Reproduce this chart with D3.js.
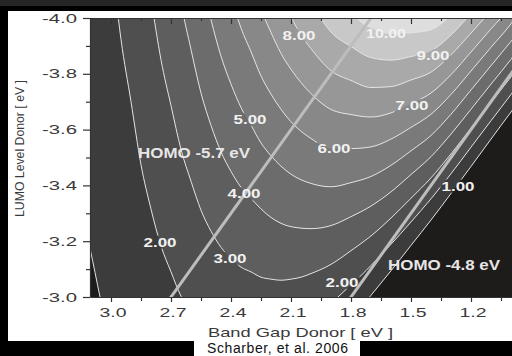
<!DOCTYPE html>
<html><head><meta charset="utf-8">
<script src="https://cdn.jsdelivr.net/npm/d3@7"></script>
<style>body{margin:0;background:#000;} svg{display:block;}</style>
</head><body>
<svg id="c" width="512" height="356"></svg>
<script>
// ---------- data ----------
const xTicks = [3.0, 2.7, 2.4, 2.1, 1.8, 1.5, 1.2];
const xTickLabels = ["3.0", "2.7", "2.4", "2.1", "1.8", "1.5", "1.2"];
const xMinorTicks = [2.85, 2.55, 2.25, 1.95, 1.65, 1.35, 1.05];
const yTicks = [-4.0, -3.8, -3.6, -3.4, -3.2, -3.0];
const yTickLabels = ["-4.0", "-3.8", "-3.6", "-3.4", "-3.2", "-3.0"];
const yMinorTicks = [-3.9, -3.7, -3.5, -3.3, -3.1];

const levels = [1, 2, 3, 4, 5, 6, 7, 8, 9, 10];
// contour lines: [band gap (eV), LUMO (eV)] ; region above each line has efficiency >= level
const contour1 = [[3.13,-3.27],[3.105,-3.176],[3.08,-3.088],[3.055,-3.0],[3.04,-2.95],[1.78,-2.95],[1.75,-2.964],[1.70,-3.006],[1.65,-3.050],[1.60,-3.094],[1.50,-3.185],[1.40,-3.276],[1.30,-3.371],[1.20,-3.468],[1.10,-3.566],[1.00,-3.663],[0.95,-3.71]];
const contour2 = [[3.00,-4.232],[2.95,-3.923],[2.90,-3.700],[2.85,-3.474],[2.80,-3.315],[2.75,-3.183],[2.70,-3.090],[2.65,-3.003],[2.60,-2.95],[1.96,-2.95],[1.90,-2.978],[1.85,-3.010],[1.80,-3.044],[1.75,-3.077],[1.70,-3.113],[1.60,-3.189],[1.50,-3.269],[1.40,-3.352],[1.30,-3.442],[1.20,-3.537],[1.10,-3.632],[1.00,-3.726],[0.95,-3.775]];
const contour3 = [[2.85,-4.336],[2.80,-4.073],[2.75,-3.850],[2.70,-3.686],[2.65,-3.529],[2.60,-3.415],[2.55,-3.311],[2.50,-3.236],[2.45,-3.178],[2.40,-3.138],[2.35,-3.107],[2.30,-3.090],[2.25,-3.071],[2.20,-3.064],[2.15,-3.060],[2.10,-3.064],[2.05,-3.071],[2.00,-3.084],[1.90,-3.117],[1.80,-3.166],[1.70,-3.219],[1.60,-3.283],[1.50,-3.354],[1.40,-3.427],[1.30,-3.513],[1.20,-3.605],[1.10,-3.697],[1.00,-3.789],[0.95,-3.835]];
const contour4 = [[2.70,-4.281],[2.65,-4.055],[2.60,-3.887],[2.55,-3.731],[2.50,-3.615],[2.45,-3.520],[2.40,-3.450],[2.35,-3.393],[2.30,-3.353],[2.20,-3.285],[2.10,-3.252],[2.00,-3.245],[1.90,-3.256],[1.80,-3.288],[1.70,-3.326],[1.60,-3.377],[1.50,-3.439],[1.40,-3.503],[1.30,-3.584],[1.20,-3.673],[1.10,-3.763],[1.00,-3.852],[0.95,-3.90]];
const contour5 = [[2.60,-4.359],[2.55,-4.151],[2.50,-3.994],[2.45,-3.863],[2.40,-3.763],[2.35,-3.679],[2.30,-3.616],[2.25,-3.552],[2.20,-3.506],[2.10,-3.440],[2.00,-3.407],[1.90,-3.395],[1.80,-3.410],[1.70,-3.432],[1.60,-3.472],[1.50,-3.524],[1.40,-3.579],[1.30,-3.655],[1.20,-3.742],[1.10,-3.829],[1.00,-3.916],[0.95,-3.96]];
const contour6 = [[2.50,-4.373],[2.45,-4.205],[2.40,-4.075],[2.35,-3.964],[2.30,-3.879],[2.25,-3.792],[2.20,-3.727],[2.10,-3.628],[2.00,-3.568],[1.90,-3.533],[1.80,-3.532],[1.70,-3.538],[1.60,-3.566],[1.50,-3.608],[1.40,-3.655],[1.30,-3.726],[1.20,-3.810],[1.10,-3.895],[1.00,-3.979],[0.95,-4.03]];
const contour7 = [[2.35,-4.250],[2.30,-4.142],[2.25,-4.033],[2.20,-3.948],[2.15,-3.873],[2.10,-3.816],[2.00,-3.729],[1.90,-3.672],[1.80,-3.654],[1.70,-3.645],[1.60,-3.660],[1.50,-3.693],[1.40,-3.731],[1.30,-3.797],[1.20,-3.878],[1.10,-3.961],[1.00,-4.042],[0.95,-4.09]];
const contour8 = [[2.20,-4.170],[2.15,-4.076],[2.10,-4.004],[2.05,-3.939],[2.00,-3.890],[1.90,-3.811],[1.80,-3.776],[1.70,-3.751],[1.60,-3.754],[1.50,-3.778],[1.40,-3.806],[1.30,-3.868],[1.20,-3.946],[1.10,-4.026],[1.05,-4.065]];
const contour9 = [[2.05,-4.112],[2.00,-4.052],[1.95,-3.997],[1.90,-3.950],[1.80,-3.898],[1.70,-3.858],[1.60,-3.849],[1.50,-3.862],[1.40,-3.882],[1.30,-3.939],[1.25,-3.976],[1.20,-4.015],[1.10,-4.092]];
const contour10 = [[1.85,-4.052],[1.80,-4.020],[1.75,-3.986],[1.70,-3.964],[1.60,-3.943],[1.50,-3.947],[1.40,-3.958],[1.35,-3.979],[1.30,-4.010],[1.25,-4.04]];
const contours = [contour1, contour2, contour3, contour4, contour5, contour6, contour7, contour8, contour9, contour10];

const contourLabels = ["1.00", "2.00", "2.00", "3.00", "4.00", "5.00", "6.00", "7.00", "8.00", "9.00", "10.00"];
const contourLabelBandGap = [1.265, 2.755, 1.845, 2.405, 2.335, 2.305, 1.885, 1.495, 2.060, 1.390, 1.625];
const contourLabelLumo = [-3.399, -3.198, -3.054, -3.140, -3.371, -3.637, -3.532, -3.687, -3.939, -3.867, -3.946];

const homoLevels = [-5.7, -4.8];
const homoLabels = ["HOMO -5.7 eV", "HOMO -4.8 eV"];
const homoLabelBandGap = [2.585, 1.335];
const homoLabelLumo = [-3.518, -3.115];

// ---------- drawing ----------
const W = 512, H = 356;
const FONT = "'Liberation Sans', Arial, sans-serif";
const svg = d3.select("#c");
svg.append("rect").attr("width", W).attr("height", H).attr("fill", "#000");
svg.append("rect").attr("x", 0).attr("y", 0).attr("width", W).attr("height", 6).attr("fill", "#262626");
svg.append("rect").attr("x", 8).attr("y", 11).attr("width", W - 8).attr("height", 330).attr("fill", "#fff");
svg.append("rect").attr("x", 194).attr("y", 340).attr("width", 166).attr("height", 16).attr("fill", "#fff");

const x = d3.scaleLinear().domain([3.105, 0.99]).range([90, 513]);
const y = d3.scaleLinear().domain([-4.0, -3.0]).range([18, 297]);

const shades = ["#1e1b1b", "#3c3c3c", "#4f4f4f", "#5e5e5e", "#6c6c6c", "#7a7a7a",
                "#888888", "#979797", "#a9a9a9", "#c8c8c8", "#dedede"];

const defs = svg.append("defs");
defs.append("clipPath").attr("id", "clip").append("rect")
  .attr("x", x(3.105)).attr("y", y(-4.0)).attr("width", W - x(3.105)).attr("height", y(-3.0) - y(-4.0));
const mask = defs.append("mask").attr("id", "lm").attr("maskUnits", "userSpaceOnUse")
  .attr("x", 0).attr("y", 0).attr("width", W).attr("height", H);
mask.append("rect").attr("width", W).attr("height", H).attr("fill", "#fff");

const plot = svg.append("g").attr("clip-path", "url(#clip)");
plot.append("rect").attr("x", x(3.105)).attr("y", y(-4.0))
  .attr("width", W - x(3.105)).attr("height", y(-3.0) - y(-4.0)).attr("fill", shades[0]);

const area = d3.area().x(d => x(d[0])).y0(y(-4.3)).y1(d => y(d[1])).curve(d3.curveMonotoneX);
const line = d3.line().x(d => x(d[0])).y(d => y(d[1])).curve(d3.curveMonotoneX);

levels.forEach((lv, i) => {
  plot.append("path").datum(contours[i]).attr("d", area).attr("fill", shades[i + 1]);
});
const lineG = plot.append("g").attr("mask", "url(#lm)");
levels.forEach((lv, i) => {
  lineG.append("path").datum(contours[i]).attr("d", line)
    .attr("fill", "none").attr("stroke", "#e4e4e4").attr("stroke-width", 1);
});
homoLevels.forEach(h => {
  const pts = [[-2.95 - h, -2.95], [-4.05 - h, -4.05]];
  plot.append("path").datum(pts).attr("d", d3.line().x(d => x(d[0])).y(d => y(d[1])))
    .attr("stroke", "#bdbdbd").attr("stroke-width", 3).attr("fill", "none");
});

// contour labels
const lblG = svg.append("g");
contourLabels.forEach((t, i) => {
  const tx = lblG.append("text")
    .attr("x", x(contourLabelBandGap[i])).attr("y", y(contourLabelLumo[i]))
    .attr("dy", "0.36em").attr("text-anchor", "middle")
    .attr("font-family", FONT).attr("font-weight", "bold").attr("font-size", 13.5)
    .attr("fill", "#f2f2f2")
    .attr("textLength", t.length > 4 ? 40 : 33).attr("lengthAdjust", "spacingAndGlyphs")
    .text(t);
  const b = tx.node().getBBox();
  mask.append("rect").attr("x", b.x - 1).attr("y", b.y + 1).attr("width", b.width + 2).attr("height", b.height - 2).attr("fill", "#000");
});
homoLabels.forEach((t, i) => {
  lblG.append("text")
    .attr("x", x(homoLabelBandGap[i])).attr("y", y(homoLabelLumo[i]))
    .attr("dy", "0.36em").attr("text-anchor", "middle")
    .attr("font-family", FONT).attr("font-weight", "bold").attr("font-size", 14)
    .attr("fill", "#e6e6e6")
    .attr("textLength", 112).attr("lengthAdjust", "spacingAndGlyphs")
    .text(t);
});

// axes
const axisColor = "#333";
function styleAxis(g) {
  g.selectAll("path.domain").attr("stroke", axisColor).attr("stroke-width", 1.2);
  g.selectAll(".tick line").attr("stroke", axisColor).attr("stroke-width", 1.2);
}
const gB = svg.append("g").attr("transform", `translate(0,${y(-3.0)})`)
  .call(d3.axisBottom(x).tickValues(xTicks).tickSize(5).tickSizeOuter(0).tickFormat((d, i) => xTickLabels[i]));
styleAxis(gB);
gB.selectAll("text").attr("font-family", FONT).attr("font-size", 12.5).attr("fill", "#3a3a3a")
  .attr("y", 19.5).attr("dy", 0).attr("x", 1.5)
  .attr("textLength", 27).attr("lengthAdjust", "spacingAndGlyphs");
const gBm = svg.append("g").attr("transform", `translate(0,${y(-3.0)})`)
  .call(d3.axisBottom(x).tickValues(xMinorTicks).tickSize(4).tickSizeOuter(0).tickFormat(""));
styleAxis(gBm); gBm.select("path.domain").remove();

const gT = svg.append("g").attr("transform", `translate(0,${y(-4.0)})`)
  .call(d3.axisBottom(x).tickValues(xTicks).tickSize(6).tickSizeOuter(0).tickFormat(""));
styleAxis(gT);
const gTm = svg.append("g").attr("transform", `translate(0,${y(-4.0)})`)
  .call(d3.axisBottom(x).tickValues(xMinorTicks).tickSize(3).tickSizeOuter(0).tickFormat(""));
styleAxis(gTm); gTm.select("path.domain").remove();

const gL = svg.append("g").attr("transform", `translate(${x(3.105)},0)`)
  .call(d3.axisLeft(y).tickValues(yTicks).tickSize(7).tickSizeOuter(0).tickPadding(6).tickFormat((d, i) => yTickLabels[i]));
styleAxis(gL);
gL.selectAll("text").attr("font-family", FONT).attr("font-size", 12.5).attr("fill", "#3a3a3a")
  .attr("dy", "0.33em").attr("textLength", 35).attr("lengthAdjust", "spacingAndGlyphs");
const gLm = svg.append("g").attr("transform", `translate(${x(3.105)},0)`)
  .call(d3.axisLeft(y).tickValues(yMinorTicks).tickSize(4).tickSizeOuter(0).tickFormat(""));
styleAxis(gLm); gLm.select("path.domain").remove();

// titles
svg.append("text").attr("x", 300.5).attr("y", 337).attr("text-anchor", "middle")
  .attr("font-family", FONT).attr("font-size", 13).attr("fill", "#3a3a3a")
  .attr("textLength", 185).attr("lengthAdjust", "spacingAndGlyphs")
  .text("Band Gap Donor [ eV ]");
svg.append("text").attr("transform", "translate(24,148.5) rotate(-90)").attr("text-anchor", "middle")
  .attr("font-family", FONT).attr("font-size", 13.5).attr("fill", "#3a3a3a")
  .attr("textLength", 137).attr("lengthAdjust", "spacingAndGlyphs")
  .text("LUMO Level Donor [ eV ]");
svg.append("text").attr("x", 207).attr("y", 353)
  .attr("font-family", FONT).attr("font-size", 14).attr("fill", "#111")
  .attr("textLength", 141).attr("lengthAdjust", "spacing")
  .text("Scharber, et al. 2006");
</script>
</body></html>
